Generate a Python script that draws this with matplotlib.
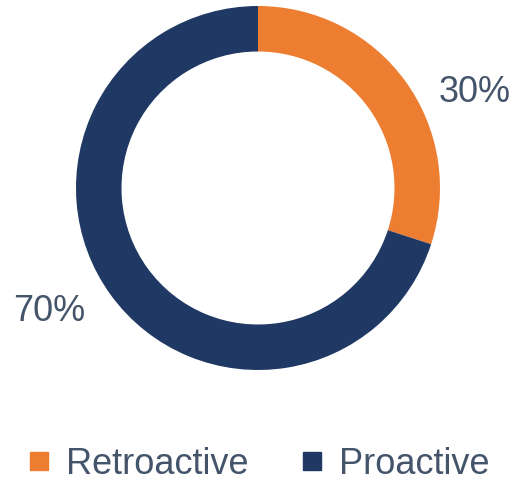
import matplotlib
matplotlib.use("Agg")
import matplotlib.pyplot as plt
from matplotlib.lines import Line2D

categories = ["Retroactive", "Proactive"]
values = [30, 70]
labels = ["30%", "70%"]
colors = ["#ED7D31", "#203864"]
text_color = "#44546A"

plt.rcParams['font.family'] = ['Liberation Sans', 'DejaVu Sans']

W, H = 515, 481
fig = plt.figure(figsize=(W/100, H/100), dpi=100)
cx, cy, r = 258, 189, 182
ax = fig.add_axes([(cx - r)/W, 1 - (cy + r)/H, 2*r/W, 2*r/H])
ax.pie(values, colors=colors, startangle=90, counterclock=False, radius=1,
       wedgeprops=dict(width=0.25, linewidth=0))
ax.set_xlim(-1, 1)
ax.set_ylim(-1, 1)
ax.axis('off')

label_pos = [(1.19, 0.53), (-1.15, -0.675)]
for lab, (x, y) in zip(labels, label_pos):
    ax.text(x, y, lab, ha='center', va='center', fontsize=26, color=text_color, clip_on=False)

handles = [Line2D([0], [0], marker='s', linestyle='none', markersize=13,
                  markerfacecolor=c, markeredgecolor=c) for c in colors]
leg = fig.legend(handles, categories, loc='center', bbox_to_anchor=(259/W, 1 - 465/H),
                 ncol=2, frameon=False, fontsize=26, handlelength=0.6, handletextpad=0.45,
                 columnspacing=1.45, borderaxespad=0)
for t in leg.get_texts():
    t.set_color(text_color)

fig.savefig("out.png", dpi=100)
